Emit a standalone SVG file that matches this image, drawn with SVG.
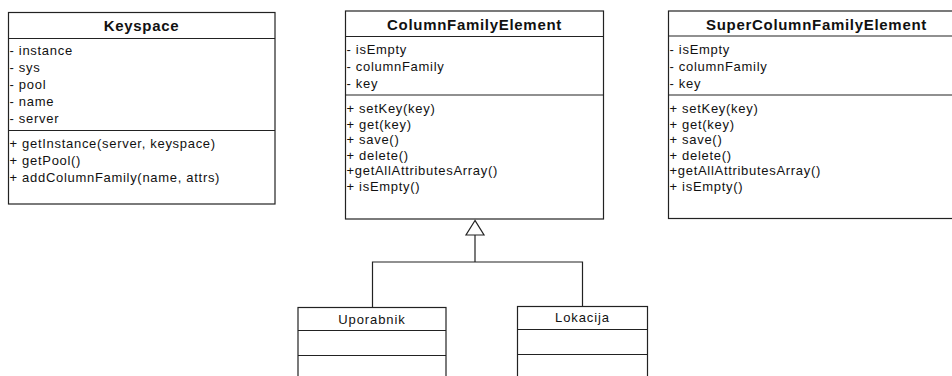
<svg xmlns="http://www.w3.org/2000/svg" width="952" height="376" viewBox="0 0 952 376">
<style>
.box{fill:#fff;stroke:#222;stroke-width:1.2}
.ln{stroke:#222;stroke-width:1.2;fill:none}
.hd{font-family:"Liberation Sans",Arial,sans-serif;font-weight:bold;font-size:15px;letter-spacing:0.7px;fill:#111;text-anchor:middle}
.tx{font-family:"Liberation Sans",Arial,sans-serif;font-size:13px;letter-spacing:0.7px;fill:#111}
.nm{font-family:"Liberation Sans",Arial,sans-serif;font-size:13px;letter-spacing:0.9px;fill:#111;text-anchor:middle}
</style>
<rect width="952" height="376" fill="#fff"/>
<g id="edges">
<path class="ln" d="M475 235 V262 M372.5 307.5 V262 H582.5 V306.5"/>
<polygon points="475,220.5 466,235 484,235" fill="#fff" stroke="#222" stroke-width="1.2"/>
</g>
<g id="keyspace">
<rect class="box" x="8.5" y="12.5" width="266.5" height="191.5"/>
<line class="ln" x1="8.5" y1="38.5" x2="275" y2="38.5"/>
<line class="ln" x1="8.5" y1="130.5" x2="275" y2="130.5"/>
<text class="hd" x="141.5" y="31">Keyspace</text>
<text class="tx" x="9.5" y="55">- instance</text>
<text class="tx" x="9.5" y="72">- sys</text>
<text class="tx" x="9.5" y="89">- pool</text>
<text class="tx" x="9.5" y="106">- name</text>
<text class="tx" x="9.5" y="123">- server</text>
<text class="tx" x="9.5" y="148">+ getInstance(server, keyspace)</text>
<text class="tx" x="9.5" y="165">+ getPool()</text>
<text class="tx" x="9.5" y="182">+ addColumnFamily(name, attrs)</text>
</g>
<g id="columnFamilyElement">
<rect class="box" x="345.5" y="11" width="258" height="208"/>
<line class="ln" x1="345.5" y1="36.5" x2="603.5" y2="36.5"/>
<line class="ln" x1="345.5" y1="95" x2="603.5" y2="95"/>
<text class="hd" x="474.5" y="29.5">ColumnFamilyElement</text>
<text class="tx" x="346.5" y="54">- isEmpty</text>
<text class="tx" x="346.5" y="71">- columnFamily</text>
<text class="tx" x="346.5" y="88">- key</text>
<text class="tx" x="346.5" y="113">+ setKey(key)</text>
<text class="tx" x="346.5" y="128.5">+ get(key)</text>
<text class="tx" x="346.5" y="144">+ save()</text>
<text class="tx" x="346.5" y="159.5">+ delete()</text>
<text class="tx" x="346.5" y="175">+getAllAttributesArray()</text>
<text class="tx" x="346.5" y="190.5">+ isEmpty()</text>
</g>
<g id="superColumnFamilyElement">
<rect class="box" x="668.5" y="11" width="300" height="207.5"/>
<line class="ln" x1="668.5" y1="36" x2="968" y2="36"/>
<line class="ln" x1="668.5" y1="95" x2="968" y2="95"/>
<text class="hd" x="816.5" y="29.5">SuperColumnFamilyElement</text>
<text class="tx" x="669.5" y="54">- isEmpty</text>
<text class="tx" x="669.5" y="71">- columnFamily</text>
<text class="tx" x="669.5" y="88">- key</text>
<text class="tx" x="669.5" y="113">+ setKey(key)</text>
<text class="tx" x="669.5" y="128.5">+ get(key)</text>
<text class="tx" x="669.5" y="144">+ save()</text>
<text class="tx" x="669.5" y="159.5">+ delete()</text>
<text class="tx" x="669.5" y="175">+getAllAttributesArray()</text>
<text class="tx" x="669.5" y="190.5">+ isEmpty()</text>
</g>
<g id="uporabnik">
<rect class="box" x="298" y="307.5" width="148" height="80"/>
<line class="ln" x1="298" y1="330.5" x2="446" y2="330.5"/>
<line class="ln" x1="298" y1="355.5" x2="446" y2="355.5"/>
<text class="nm" x="372" y="324">Uporabnik</text>
</g>
<g id="lokacija">
<rect class="box" x="517.5" y="306.5" width="130" height="80"/>
<line class="ln" x1="517.5" y1="329.5" x2="647.5" y2="329.5"/>
<line class="ln" x1="517.5" y1="354.5" x2="647.5" y2="354.5"/>
<text class="nm" x="582.5" y="321.5">Lokacija</text>
</g>
</svg>
